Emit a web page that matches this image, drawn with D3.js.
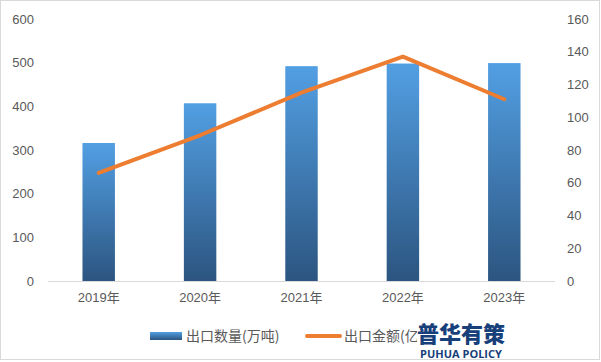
<!DOCTYPE html>
<html lang="zh">
<head>
<meta charset="utf-8">
<title>出口数量与金额</title>
<script src="https://cdn.jsdelivr.net/npm/d3@7"></script>
<style>
  body { margin: 0; background: #fff; }
  svg text { font-family: "Noto Sans CJK SC", "Liberation Sans", sans-serif; }
</style>
</head>
<body>
<script>
// data
var years = ["2019年", "2020年", "2021年", "2022年", "2023年"];
var volume = [316, 407, 492, 498, 499];   // 出口数量(万吨)
var amount = [66, 89, 115, 137, 111];     // 出口金额(亿美元)
var leftTicks = [0, 100, 200, 300, 400, 500, 600];
var rightTicks = [0, 20, 40, 60, 80, 100, 120, 140, 160];

var w = 601, h = 362;
// plot edges ("top" is taken by window.top, so use own names)
var plotL = 48, plotR = 555, plotT = 19, plotB = 281;

var svg = d3.select("body").append("svg")
    .attr("width", w)
    .attr("height", h);

// chart border
svg.append("rect")
    .attr("x", 0.5).attr("y", 0.5)
    .attr("width", w - 2).attr("height", h - 3)
    .attr("fill", "#fff")
    .attr("stroke", "#d9d9d9");

var defs = svg.append("defs");
var grad = defs.append("linearGradient")
    .attr("id", "barGrad")
    .attr("x1", 0).attr("y1", 0).attr("x2", 0).attr("y2", 1);
grad.append("stop").attr("offset", "0%").attr("stop-color", "#529fe3");
grad.append("stop").attr("offset", "100%").attr("stop-color", "#2c5580");

var x = d3.scaleBand().domain(years).range([plotL, plotR]).paddingInner(0.68).paddingOuter(0.34);
var yL = d3.scaleLinear().domain([0, 600]).range([plotB, plotT]);
var yR = d3.scaleLinear().domain([0, 160]).range([plotB, plotT]);

// bars
svg.append("g").selectAll("rect")
    .data(volume)
    .join("rect")
    .attr("x", function(d, i) { return x(years[i]); })
    .attr("y", function(d) { return yL(d); })
    .attr("width", x.bandwidth())
    .attr("height", function(d) { return plotB - yL(d); })
    .attr("fill", "url(#barGrad)");

// baseline
svg.append("line")
    .attr("x1", plotL).attr("x2", plotR)
    .attr("y1", plotB + 0.5).attr("y2", plotB + 0.5)
    .attr("stroke", "#d9d9d9");

// line
var line = d3.line()
    .x(function(d, i) { return x(years[i]) + x.bandwidth() / 2; })
    .y(function(d) { return yR(d); });

svg.append("path")
    .datum(amount)
    .attr("d", line)
    .attr("fill", "none")
    .attr("stroke", "#ed7d31")
    .attr("stroke-width", 4)
    .attr("stroke-linejoin", "round")
    .attr("stroke-linecap", "round");

// axes
var axL = svg.append("g")
    .attr("transform", "translate(" + (plotL - 14) + ",0)")
    .call(d3.axisLeft(yL).tickValues(leftTicks).tickSize(0).tickPadding(0));
var axR = svg.append("g")
    .attr("transform", "translate(" + (plotR + 12) + ",0)")
    .call(d3.axisRight(yR).tickValues(rightTicks).tickSize(0).tickPadding(0));
var axX = svg.append("g")
    .attr("transform", "translate(0," + (plotB + 12) + ")")
    .call(d3.axisBottom(x).tickSize(0).tickPadding(0));

[axL, axR, axX].forEach(function(a) {
    a.select(".domain").remove();
    a.selectAll("text")
        .attr("fill", "#595959")
        .style("font-size", "13px")
        .style("font-family", "'Liberation Sans', 'Noto Sans CJK SC', sans-serif");
});

// legend
var leg = svg.append("g").attr("transform", "translate(0,336)");
leg.append("rect")
    .attr("x", 150).attr("y", -4)
    .attr("width", 32).attr("height", 8)
    .attr("fill", "url(#barGrad)");
leg.append("text")
    .attr("x", 186).attr("y", 5)
    .attr("fill", "#595959")
    .style("font-size", "14px")
    .text("出口数量(万吨)");
leg.append("line")
    .attr("x1", 307).attr("x2", 340)
    .attr("y1", 0).attr("y2", 0)
    .attr("stroke", "#ed7d31")
    .attr("stroke-width", 4)
    .attr("stroke-linecap", "round");
leg.append("text")
    .attr("x", 344).attr("y", 5)
    .attr("fill", "#595959")
    .style("font-size", "14px")
    .text("出口金额(亿美元)");

// watermark logo over the legend
var logo = svg.append("g");
logo.append("rect")
    .attr("x", 417).attr("y", 320)
    .attr("width", 88).attr("height", 38)
    .attr("fill", "#fff");
logo.append("text")
    .attr("x", 461).attr("y", 342)
    .attr("text-anchor", "middle")
    .attr("fill", "#17407a")
    .style("font-size", "22px")
    .style("font-weight", "900")
    .text("普华有策");
logo.append("text")
    .attr("x", 461).attr("y", 358)
    .attr("text-anchor", "middle")
    .attr("fill", "#17407a")
    .style("font-size", "11px")
    .style("font-weight", "bold")
    .style("font-family", "'Open Sans', sans-serif")
    .text("PUHUA POLICY");
</script>
</body>
</html>
